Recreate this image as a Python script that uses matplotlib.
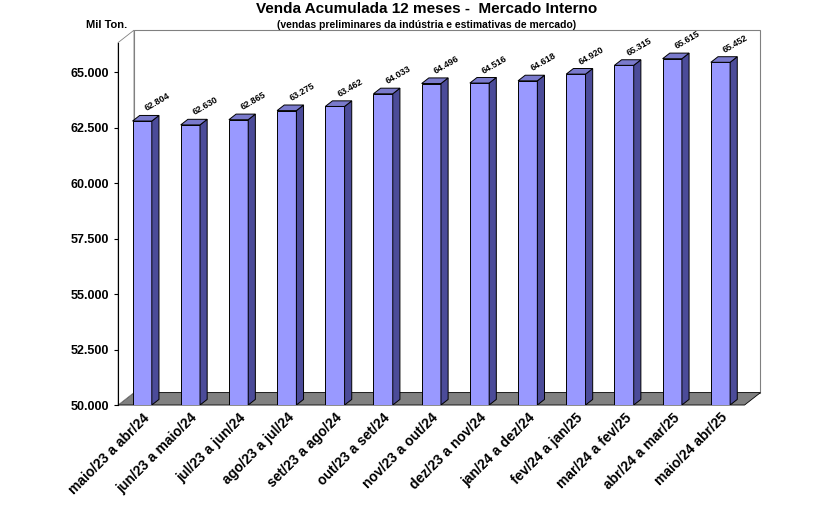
import matplotlib.pyplot as plt
from matplotlib.patches import Polygon, Rectangle

plt.rcParams['font.family'] = 'Liberation Sans'

periods = ['maio/23 a abr/24', 'jun/23 a maio/24', 'jul/23 a jun/24', 'ago/23 a jul/24',
           'set/23 a ago/24', 'out/23 a set/24', 'nov/23 a out/24', 'dez/23 a nov/24',
           'jan/24 a dez/24', 'fev/24 a jan/25', 'mar/24 a fev/25', 'abr/24 a mar/25',
           'maio/24 abr/25']
sales = [62804, 62630, 62865, 63275, 63462, 64033, 64496, 64516, 64618, 64920, 65315, 65615, 65452]
yticks = [50000, 52500, 55000, 57500, 60000, 62500, 65000]

def fmt(v):
    return f'{v:,}'.replace(',', '.')

fig = plt.figure(figsize=(8.2, 5.17), dpi=100)
ax = fig.add_axes([0.144, 0.2166, 0.764, 0.725])
n = len(sales)
ymin, ymax = 50000, 66900
ax.set_xlim(-0.5, n - 0.5)
ax.set_ylim(ymin, ymax)

dx, dy = 0.33, 560   # depth offset
w = 0.4

# back wall and floor
ax.add_patch(Polygon([(-0.5 + dx, ymin + dy), (n - 0.5 + dx, ymin + dy), (n - 0.5 + dx, ymax),
                      (-0.5 + dx, ymax)], closed=True, fc='white', ec='#808080', lw=0.8, clip_on=False))
ax.add_patch(Polygon([(-0.5, ymin), (n - 0.5, ymin), (n - 0.5 + dx, ymin + dy), (-0.5 + dx, ymin + dy)],
                     closed=True, fc='#808080', ec='black', lw=0.6, clip_on=False))
ax.add_patch(Polygon([(-0.5, ymin), (-0.5 + dx, ymin + dy), (-0.5 + dx, ymax), (-0.5, ymax - dy)],
                     closed=True, fc='white', ec='#808080', lw=0.6, clip_on=False))

for i, v in enumerate(sales):
    x0, x1 = i - w / 2, i + w / 2
    ax.add_patch(Rectangle((x0, ymin), w, v - ymin, fc='#9999FF', ec='black', lw=0.7, zorder=3))
    ax.add_patch(Polygon([(x1, ymin), (x1 + dx * 0.45, ymin + dy * 0.45), (x1 + dx * 0.45, v + dy * 0.45), (x1, v)],
                         closed=True, fc='#4B4B99', ec='black', lw=0.7, zorder=3))
    ax.add_patch(Polygon([(x0, v), (x1, v), (x1 + dx * 0.45, v + dy * 0.45), (x0 + dx * 0.45, v + dy * 0.45)],
                         closed=True, fc='#7A7ACC', ec='black', lw=0.7, zorder=3))
    ax.text(i + 0.02, v + dy * 0.45 + 100, fmt(v), rotation=30, fontsize=6.5, fontweight='bold',
            ha='left', va='bottom', zorder=4)

for s in ['top', 'right', 'bottom']:
    ax.spines[s].set_visible(False)
ax.spines['left'].set_bounds(ymin, ymax - dy)
ax.set_yticks(yticks)
ax.set_yticklabels([fmt(t) for t in yticks], fontsize=9, fontweight='bold')
ax.set_xticks(range(n))
ax.set_xticklabels(periods, rotation=45, ha='right', rotation_mode='anchor', fontsize=10, fontweight='bold')
ax.tick_params(axis='x', length=0, pad=4)
ax.tick_params(axis='y', length=3)

fig.text(0.13, 0.945, 'Mil Ton.', fontsize=8, fontweight='bold', ha='center')
fig.text(0.52, 0.975, 'Venda Acumulada 12 meses -  Mercado Interno', fontsize=11, fontweight='bold', ha='center')
fig.text(0.52, 0.945, '(vendas preliminares da indústria e estimativas de mercado)', fontsize=7.5, fontweight='bold', ha='center')

fig.savefig('out.png', dpi=100)
